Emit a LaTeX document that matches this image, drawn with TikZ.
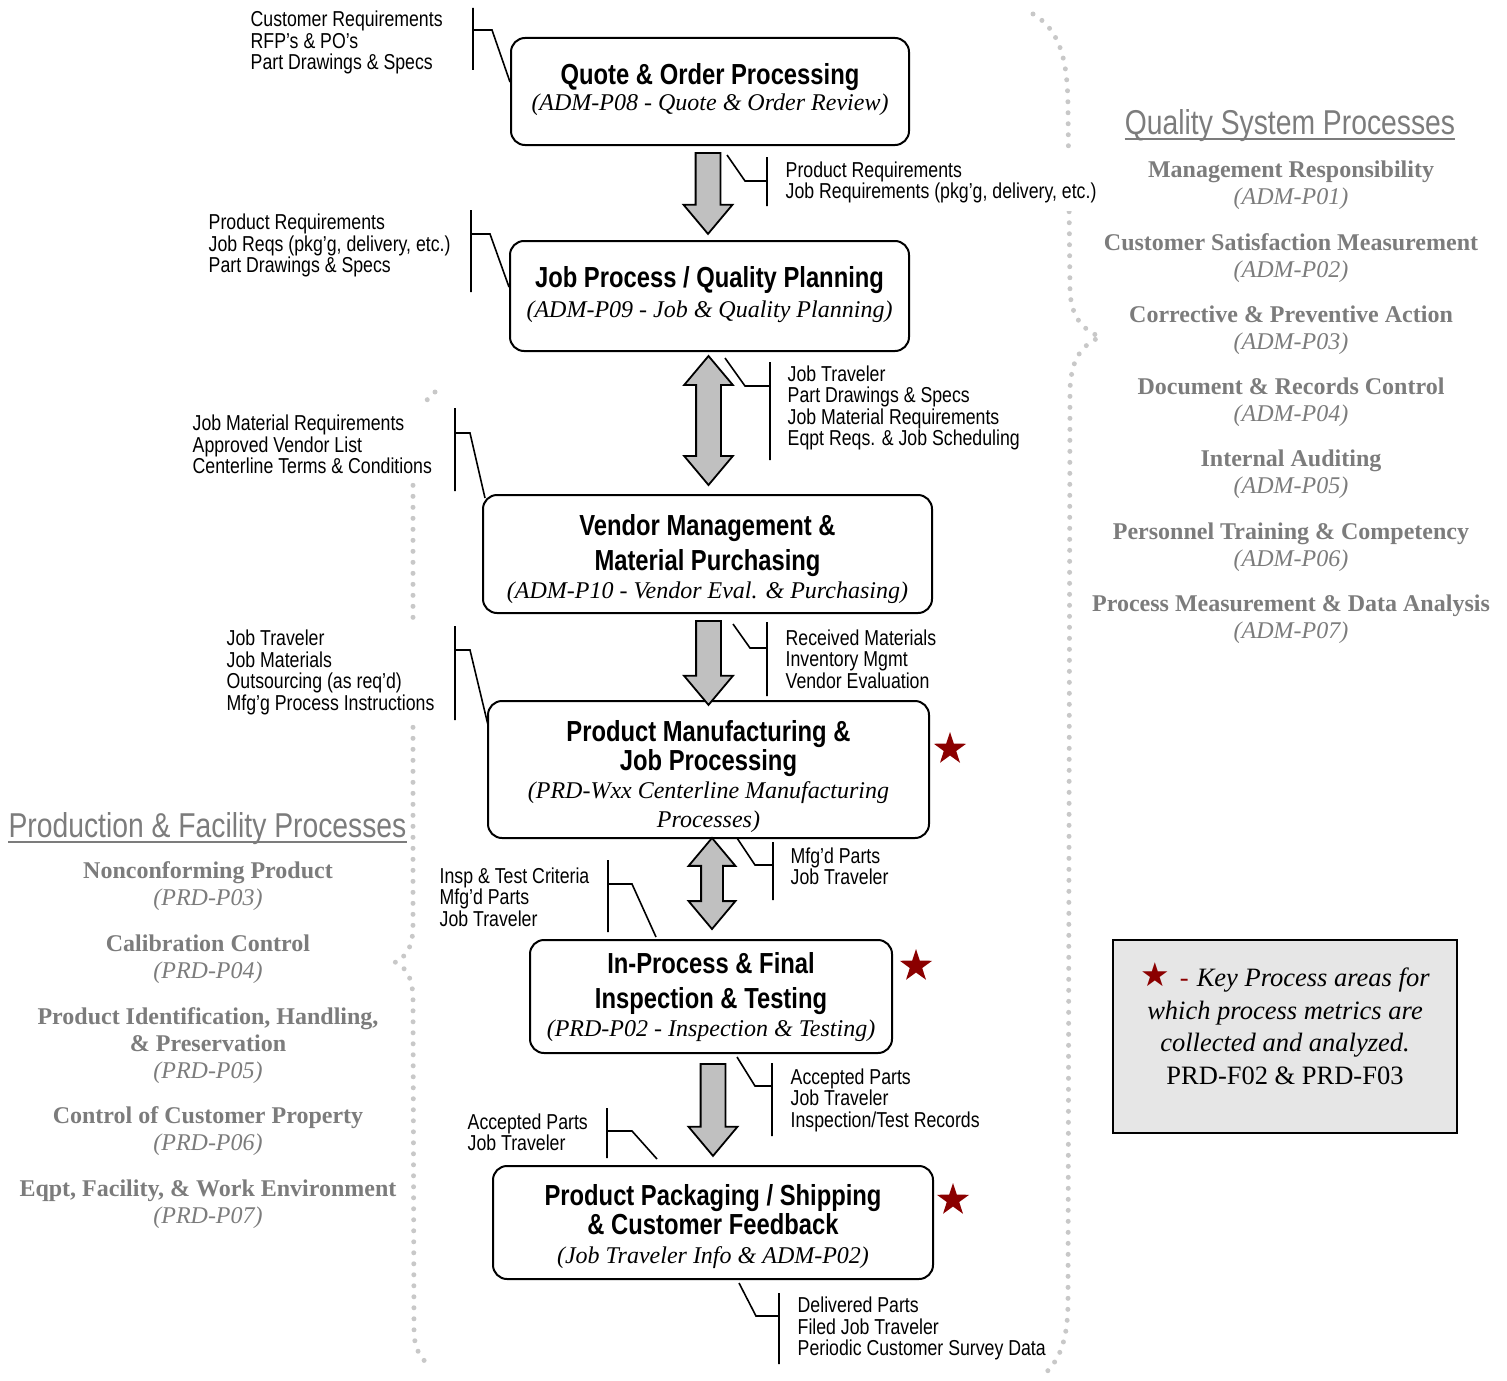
\documentclass[tikz,border=0pt]{standalone}
\usepackage{fontspec}
\setmainfont{Liberation Serif}
\newfontfamily\narrowsans[FakeStretch=0.82]{Liberation Sans}
\newfontfamily\starfont{DejaVu Sans}
\usetikzlibrary{shapes.geometric, shapes.arrows, positioning, calc}

\definecolor{boxgray}{HTML}{C0C0C0}
\definecolor{procgray}{HTML}{7C7C7C}
\definecolor{dotgray}{HTML}{C8C8C8}
\definecolor{starred}{HTML}{8B0000}
\definecolor{legendfill}{HTML}{E6E6E6}

\newcommand\titlefont{\narrowsans\upshape\bfseries\fontsize{29}{33}\selectfont}
\newcommand\subfont{\itshape\fontsize{24}{29}\selectfont}
\newcommand\notefont{\narrowsans\fontsize{21.6}{21.5}\selectfont}
\newcommand\headfont{\narrowsans\fontsize{34.5}{40}\selectfont}

\begin{document}
\begin{tikzpicture}[
    x=1pt, y=-1pt,
    procbox/.style={draw, line width=2pt, rounded corners=14pt, inner sep=0pt},
    proctext/.style={align=center, inner sep=0pt, font=\subfont},
    note/.style={align=left, anchor=west, inner xsep=3pt, inner ysep=8pt, xshift=-2.5pt, yshift=-2.5pt, fill=white, font=\notefont},
    leader/.style={line width=1.6pt},
    blockdown/.style={single arrow, draw, line width=1.8pt, fill=boxgray, rotate=-90, anchor=tail,
        inner xsep=0pt, inner ysep=11.5pt, single arrow head extend=12pt, single arrow tip angle=80},
    blockboth/.style={double arrow, draw, line width=1.8pt, fill=boxgray, rotate=90,
        inner xsep=0pt, inner ysep=11.5pt, double arrow head extend=12pt, double arrow tip angle=80},
    keystar/.style={star, star points=5, star point ratio=2.6, fill=starred, minimum size=34pt, inner sep=0pt},
    qsitem/.style={align=center, text=procgray, font=\fontsize{24}{27}\selectfont},
    heading/.style={text=procgray, font=\headfont, inner sep=0pt},
    brace/.style={draw=dotgray, line width=5pt, line cap=round, dash pattern=on 0pt off 11pt}
]
    \useasboundingbox (0,0) rectangle (1507,1381);

    % dotted braces
    \draw[brace] (1033,14) .. controls (1060,30) and (1068,60) .. (1068,110) -- (1070,290)
        .. controls (1071,320) and (1085,330) .. (1100,337) .. controls (1085,344) and (1071,355) .. (1070,390)
        -- (1068,1300) .. controls (1068,1340) and (1060,1362) .. (1040,1378);
    \draw[brace] (435,392) .. controls (420,402) and (413,430) .. (413,470) -- (413,925)
        .. controls (413,948) and (406,957) .. (395,962) .. controls (406,967) and (413,978) .. (413,1000)
        -- (414,1330) .. controls (414,1348) and (420,1358) .. (430,1366);

    % process boxes
    \node[procbox, minimum width=398pt, minimum height=107pt] (quote) at (710,91.5) {};
    \node[proctext] (quote-text) at (710,89.25)
        {{\titlefont Quote \& Order Processing}\\[-3pt]{\subfont (ADM-P08 - Quote \& Order Review)}};
    \node[procbox, minimum width=399pt, minimum height=110pt] (plan) at (709.5,296) {};
    \node[proctext] (plan-text) at (709.5,294.25)
        {{\titlefont Job Process / Quality Planning}\\[1pt]{\subfont (ADM-P09 - Job \& Quality Planning)}};
    \node[procbox, minimum width=449pt, minimum height=118pt] (vendor) at (707.5,554) {};
    \node[proctext] (vendor-text) at (707.5,559.25)
        {{\titlefont Vendor Management \&}\\[6pt]{\titlefont Material Purchasing}\\[-1pt]{\subfont (ADM-P10 - Vendor Eval. \& Purchasing)}};
    \node[procbox, minimum width=441pt, minimum height=137pt] (mfg) at (708.5,769.5) {};
    \node[proctext] (mfg-text) at (708.5,776.75)
        {{\titlefont Product Manufacturing \&}\\{\titlefont Job Processing}\\[-1pt]{\subfont (PRD-Wxx Centerline Manufacturing}\\{\subfont Processes)}};
    \node[procbox, minimum width=362pt, minimum height=113pt] (insp) at (711,996.5) {};
    \node[proctext] (insp-text) at (711,997.25)
        {{\titlefont In-Process \& Final}\\[6pt]{\titlefont Inspection \& Testing}\\[-1pt]{\subfont (PRD-P02 - Inspection \& Testing)}};
    \node[procbox, minimum width=440pt, minimum height=113pt] (pack) at (713,1222.5) {};
    \node[proctext] (pack-text) at (713,1226.75)
        {{\titlefont Product Packaging / Shipping}\\{\titlefont \& Customer Feedback}\\{\subfont (Job Traveler Info \& ADM-P02)}};

    % block arrows between boxes
    \node[blockdown, minimum height=81pt] (a1) at (708,152) {};
    \node[blockboth, minimum height=129pt] (a2) at (708.5,420.5) {};
    \node[blockdown, minimum height=84pt] (a3) at (708.5,620) {};
    \node[blockboth, minimum height=91pt, inner ysep=10pt, double arrow head extend=12.5pt] (a4) at (712,883.5) {};
    \node[blockdown, minimum height=92pt] (a5) at (713,1063) {};

    % key process stars
    \node[keystar] (star-mfg) at (950,749) {};
    \node[keystar] (star-insp) at (916,966) {};
    \node[keystar] (star-pack) at (953,1200) {};

    % inputs / outputs
    \node[note] (n-quote-in) at (250,40) {Customer Requirements\\RFP’s \& PO’s\\Part Drawings \& Specs};
    \node[note] (n-quote-out) at (785,180) {Product Requirements\\Job Requirements (pkg’g, delivery, etc.)};
    \node[note] (n-plan-in) at (208,243) {Product Requirements\\Job Reqs (pkg’g, delivery, etc.)\\Part Drawings \& Specs};
    \node[note] (n-plan-out) at (787,405.5) {Job Traveler\\Part Drawings \& Specs\\Job Material Requirements\\Eqpt Reqs. \& Job Scheduling};
    \node[note] (n-vend-in) at (192,442) {Job Material Requirements\\Approved Vendor List\\Centerline Terms \& Conditions};
    \node[note] (n-vend-out) at (785,656.5) {Received Materials\\Inventory Mgmt\\Vendor Evaluation};
    \node[note] (n-mfg-in) at (226,670) {Job Traveler\\Job Materials\\Outsourcing (as req’d)\\Mfg’g Process Instructions};
    \node[note] (n-mfg-out) at (790,864) {Mfg’d Parts\\Job Traveler};
    \node[note] (n-insp-in) at (439,894.5) {Insp \& Test Criteria\\Mfg’d Parts\\Job Traveler};
    \node[note] (n-insp-out) at (790,1097.5) {Accepted Parts\\Job Traveler\\Inspection/Test Records};
    \node[note] (n-pack-in) at (467,1130) {Accepted Parts\\Job Traveler};
    \node[note] (n-pack-out) at (797,1326) {Delivered Parts\\Filed Job Traveler\\Periodic Customer Survey Data};

    % leaders
    \draw[leader] (473,8) -- (473,70) (473,30) -- (492,30) -- (quote.west |- 0,82);
    \draw[leader] (727,155) -- (745,181) -- (767,181) (767,157) -- (767,206);
    \draw[leader] (471,210) -- (471,292) (471,234) -- (490,234) -- (plan.west |- 0,287);
    \draw[leader] (725,358) -- (745,386) -- (770,386) (770,362) -- (770,460);
    \draw[leader] (455,408) -- (455,491) (455,433) -- (470,433) -- (485,498);
    \draw[leader] (733,624) -- (750,648) -- (767,648) (767,622) -- (767,696);
    \draw[leader] (455,626) -- (455,720) (455,650) -- (470,650) -- (488,725);
    \draw[leader] (737,838) -- (755,865) -- (773,865) (773,842) -- (773,900);
    \draw[leader] (608,860) -- (608,932) (608,884) -- (632,884) -- (656,937);
    \draw[leader] (737,1057) -- (755,1086) -- (772,1086) (772,1063) -- (772,1136);
    \draw[leader] (607,1108) -- (607,1158) (607,1131) -- (632,1131) -- (657,1159);
    \draw[leader] (739,1283) -- (756,1316) -- (779,1316) (779,1293) -- (779,1364);

    % quality system processes
    \node[heading] (qs-head) at (1290,126) {Quality System Processes};
    \draw[procgray, line width=2.5pt] ([yshift=-4pt]qs-head.base west) -- ([yshift=-4pt]qs-head.base east);
    \foreach \qname/\qcode [count=\i from 0] in {Management Responsibility/ADM-P01,
        Customer Satisfaction Measurement/ADM-P02, Corrective \& Preventive Action/ADM-P03,
        Document \& Records Control/ADM-P04, Internal Auditing/ADM-P05,
        Personnel Training \& Competency/ADM-P06, Process Measurement \& Data Analysis/ADM-P07}
        \node[qsitem] (qs-\i) at (1291,185.5+72.25*\i) {\textbf{\qname}\\\textit{(\qcode)}};

    % production & facility processes
    \node[heading] (pf-head) at (207.5,829) {Production \& Facility Processes};
    \draw[procgray, line width=2.5pt] ([yshift=-4pt]pf-head.base west) -- ([yshift=-4pt]pf-head.base east);
    \foreach \py/\pname/\pcode in {886.5/\textbf{Nonconforming Product}/PRD-P03,
        959/\textbf{Calibration Control}/PRD-P04,
        1045.5/{\textbf{Product Identification, Handling,}\\\textbf{\& Preservation}}/PRD-P05,
        1131.5/\textbf{Control of Customer Property}/PRD-P06,
        1204/{\textbf{Eqpt, Facility, \& Work Environment}}/PRD-P07}
        \node[qsitem] (pf-\pcode) at (208,\py) {\pname\\\textit{(\pcode)}};

    % legend
    \node[draw, line width=2pt, fill=legendfill, minimum width=344pt, minimum height=193pt, inner sep=0pt] (legend) at (1285,1036.5) {};
    \node[anchor=north, align=center, font=\fontsize{26.5}{32.5}\selectfont, inner sep=0pt] (legend-text) at ([yshift=-23.5pt]legend.north)
        {{\starfont\fontsize{33}{32}\selectfont\color{starred}★}\hspace{10pt}{\color{starred}-}\hspace{8pt}\textit{Key Process areas for}\\\textit{which process metrics are}\\\textit{collected and analyzed.}\\PRD-F02 \& PRD-F03};
\end{tikzpicture}
\end{document}
